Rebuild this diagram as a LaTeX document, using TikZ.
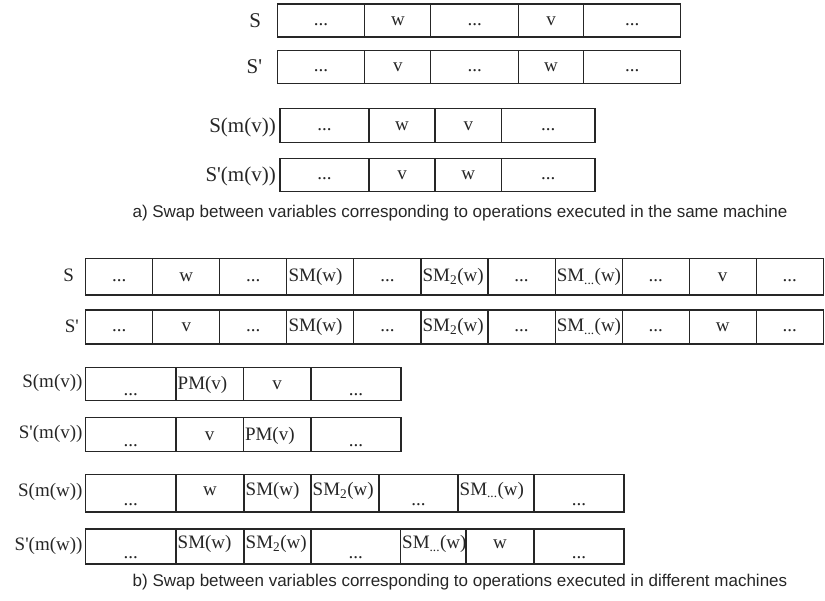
\documentclass[tikz,border=0pt]{standalone}
\usepackage{fontspec}
\setmainfont{Liberation Serif}
\newfontfamily\capfont{Liberation Sans}

% a row of adjoining cells: name, top y, bottom y, list of left/right x pairs
\newcommand\gridrow[4]{%
  \foreach \xa/\xb [count=\i] in {#4}{%
    \node[cell, minimum width={(\xb-\xa)*1pt}, minimum height={((#3)-(#2))*1pt}]
      (#1-\i) at ({(\xa+\xb)/2},{((#2)+(#3))/2}) {};
  }%
}
% centred and left-aligned cell entries (optional arg: baseline drop below centre)
\newcommand\ctx[3][5]{\node[txt, anchor=base] (#2t) at ([yshift=-#1pt]#2.center) {#3};}
\newcommand\ltx[3][5]{\node[txt, anchor=base west] (#2t) at ([xshift=1.5pt,yshift=-#1pt]#2.west) {#3};}
\newcommand\sub[1]{\textsubscript{#1}}
\newcommand\pr{\textquotesingle}

\begin{document}
\begin{tikzpicture}[x=1pt, y=-1pt,
  cell/.style={draw=black!85, line width=1.1pt, rectangle, inner sep=0pt, outer sep=0pt},
  txt/.style={font=\fontsize{19}{22}\selectfont, inner sep=0pt, text=black!85},
  alab/.style={font=\fontsize{21}{24}\selectfont, inner sep=0pt, text=black!85},
  blab/.style={font=\fontsize{19}{22}\selectfont, inner sep=0pt, text=black!85},
  caption/.style={font=\capfont\fontsize{17}{20}\selectfont, inner sep=0pt, text=black!85}]
\useasboundingbox (0,0) rectangle (825,601);

% ---------------- part a) ----------------
\gridrow{a1}{4}{37}{277.3/364.9, 364.9/430.9, 430.9/518.4, 518.4/583.7, 583.7/680.7}
\gridrow{a2}{50.5}{83.5}{277.3/364.9, 364.9/430.9, 430.9/518.4, 518.4/583.7, 583.7/680.7}
\gridrow{a3}{108.5}{142.5}{280/369, 369/435, 435/501.7, 501.7/595}
\gridrow{a4}{158.3}{191.7}{280/369, 369/435, 435/501.7, 501.7/595}

\ctx{a1-1}{...}\ctx{a1-2}{w}\ctx{a1-3}{...}\ctx{a1-4}{v}\ctx{a1-5}{...}
\ctx{a2-1}{...}\ctx{a2-2}{v}\ctx{a2-3}{...}\ctx{a2-4}{w}\ctx{a2-5}{...}
\ctx{a3-1}{...}\ctx{a3-2}{w}\ctx{a3-3}{v}\ctx{a3-4}{...}
\ctx{a4-1}{...}\ctx{a4-2}{v}\ctx{a4-3}{w}\ctx{a4-4}{...}

\node[alab, anchor=base east] (la1) at ([xshift=-16pt,yshift=-7pt]a1-1.west) {S};
\node[alab, anchor=base east] (la2) at ([xshift=-15pt,yshift=-7pt]a2-1.west) {S\pr};
\node[alab, anchor=base east] (la3) at ([xshift=-4pt,yshift=-7pt]a3-1.west) {S(m(v))};
\node[alab, anchor=base east] (la4) at ([xshift=-4pt,yshift=-7pt]a4-1.west) {S\pr(m(v))};

\node[caption] (capa) at (460,213) {a) Swap between variables corresponding to operations executed in the same machine};

% ---------------- part b) ----------------
\foreach \k [evaluate=\k as \xa using {85.7+(\k-1)*67.05},
             evaluate=\k as \xb using {85.7+\k*67.05}] in {1,...,11}{
  \node[cell, minimum width=67.05pt, minimum height=36.5pt] (b1-\k) at ({(\xa+\xb)/2},276.75) {};
  \node[cell, minimum width=67.05pt, minimum height=34pt] (b2-\k) at ({(\xa+\xb)/2},327) {};
}
\gridrow{b3}{367.5}{400.5}{85.7/176, 176/243.3, 243.3/311, 311/401}
\gridrow{b4}{417.5}{451.7}{85.7/176, 176/243.3, 243.3/311, 311/401}
\gridrow{b5}{474.5}{512}{85.7/176, 176/244, 244/311, 311/379, 379/458, 458/534, 534/624}
\gridrow{b6}{529}{564}{85.7/176, 176/244, 244/311, 311/400.5, 400.5/466, 466/534, 534/624}

\ctx{b1-1}{...}\ctx{b1-2}{w}\ctx{b1-3}{...}\ltx{b1-4}{SM(w)}\ctx{b1-5}{...}
\ltx{b1-6}{SM\sub{2}(w)}\ctx{b1-7}{...}\ltx{b1-8}{SM\sub{...}(w)}\ctx{b1-9}{...}
\ctx{b1-10}{v}\ctx{b1-11}{...}
\ctx{b2-1}{...}\ctx{b2-2}{v}\ctx{b2-3}{...}\ltx{b2-4}{SM(w)}\ctx{b2-5}{...}
\ltx{b2-6}{SM\sub{2}(w)}\ctx{b2-7}{...}\ltx{b2-8}{SM\sub{...}(w)}\ctx{b2-9}{...}
\ctx{b2-10}{w}\ctx{b2-11}{...}

\ctx[12]{b3-1}{...}\ltx[6]{b3-2}{PM(v)}\ctx[6]{b3-3}{v}\ctx[12]{b3-4}{...}
\ctx[12]{b4-1}{...}\ctx[6]{b4-2}{v}\ltx[6]{b4-3}{PM(v)}\ctx[12]{b4-4}{...}

\ctx[12]{b5-1}{...}\ctx[2]{b5-2}{w}\ltx[2]{b5-3}{SM(w)}\ltx[2]{b5-4}{SM\sub{2}(w)}
\ctx[12]{b5-5}{...}\ltx[2]{b5-6}{SM\sub{...}(w)}\ctx[12]{b5-7}{...}
\ctx[12]{b6-1}{...}\ltx[2]{b6-2}{SM(w)}\ltx[2]{b6-3}{SM\sub{2}(w)}\ctx[12]{b6-4}{...}
\ltx[2]{b6-5}{SM\sub{...}(w)}\ctx[2]{b6-6}{w}\ctx[12]{b6-7}{...}

\node[blab] (lb1) at ([xshift=-17pt,yshift=1pt]b1-1.west) {S};
\node[blab, anchor=west] (lb2) at ([xshift=-21pt,yshift=1pt]b2-1.west) {S\pr};
\node[blab, anchor=east] (lb3) at ([xshift=-3pt,yshift=1pt]b3-1.west) {S(m(v))};
\node[blab, anchor=east] (lb4) at ([xshift=-3pt,yshift=1pt]b4-1.west) {S\pr(m(v))};
\node[blab, anchor=east] (lb5) at ([xshift=-3pt,yshift=1pt]b5-1.west) {S(m(w))};
\node[blab, anchor=east] (lb6) at ([xshift=-3pt,yshift=1pt]b6-1.west) {S\pr(m(w))};

\node[caption] (capb) at (460,582) {b) Swap between variables corresponding to operations executed in different machines};
\end{tikzpicture}
\end{document}
